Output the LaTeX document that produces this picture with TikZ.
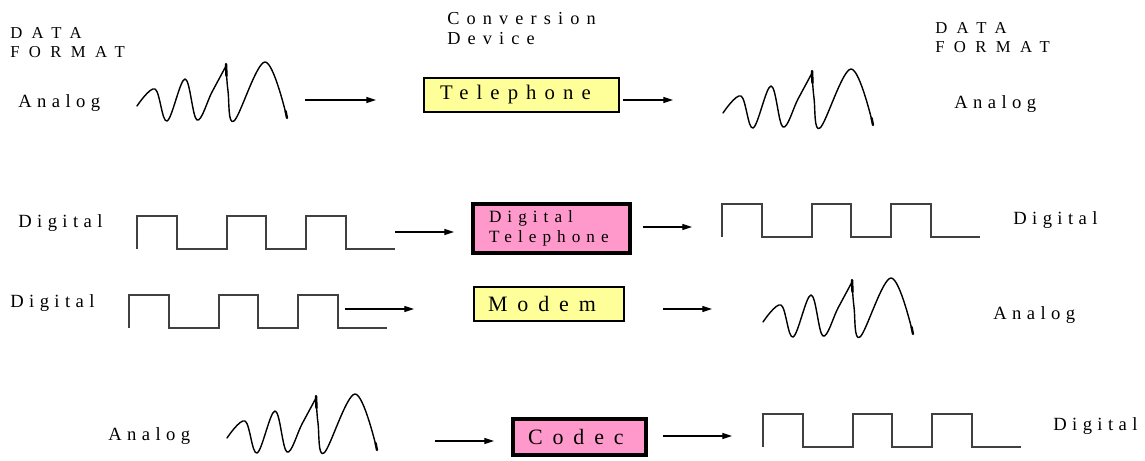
\documentclass[tikz,border=0pt]{standalone}
\usepackage{fontspec}
\setmainfont{Liberation Serif}
\newfontfamily\capsfont[LetterSpace=56]{Liberation Serif}
\newfontfamily\headfont[LetterSpace=39]{Liberation Serif}
\newfontfamily\sigfont[LetterSpace=29]{Liberation Serif}
\newfontfamily\devfont[LetterSpace=45]{Liberation Serif}
\newfontfamily\inboxfont[LetterSpace=35]{Liberation Serif}
\usetikzlibrary{arrows.meta}

\definecolor{boxyellow}{HTML}{FFFF99}
\definecolor{boxpink}{HTML}{FF99CC}

\tikzset{
    wave/.style={line width=0.8pt, line cap=round, line join=round},
    square/.style={line width=0.7pt, black!75},
    flow/.style={-{Triangle[length=5.5pt,width=3.4pt]}, line width=0.6pt},
    fmttext/.style={inner sep=0pt, anchor=base west, font=\sigfont\fontsize{10.6}{12}\selectfont},
    devbox/.style={draw, line width=0.8pt, inner ysep=0pt, align=left},
    heavybox/.style={devbox, line width=1.8pt},
}

\begin{document}
\begin{tikzpicture}[x=0.02cm, y=-0.02cm]
        \useasboundingbox (0,0) rectangle (1145,460);

        % Analog signal, drawn from its left end
        \def\analogwave{
            \draw[wave] plot[smooth, tension=0.6] coordinates
                {(0,0) (18,-17) (30,15) (48,-27) (60,14) (75,-14) (89,-40)};
            \draw[wave] plot[smooth, tension=0.6] coordinates
                {(89,-42) (91,-15) (97,15) (128,-44) (150,12)};
            \draw[wave, line width=1.4pt] (89,-42) -- (89.5,-30);
            \draw[wave, line width=1.3pt] (148.6,5) -- (150,12);
        }
        % Digital signal, drawn from its lower left corner
        \def\squarewave{
            \draw[square] (0,0) -- (0,-33) -- (40,-33) -- (40,0) -- (90,0)
                -- (90,-33) -- (129,-33) -- (129,0) -- (169,0) -- (169,-33)
                -- (209,-33) -- (209,0) -- (258,0);
        }

        % --- Column headings ---
        \node[inner sep=0pt, anchor=north west, align=left,
              font=\capsfont\fontsize{9.5}{10.8}\selectfont] (fmtL) at (10,27) {DATA\\FORMAT};
        \node[inner sep=0pt, anchor=north west, align=left,
              font=\headfont\fontsize{10.4}{11.3}\selectfont] (convdev) at (447,12) {Conversion\\Device};
        \node[inner sep=0pt, anchor=north west, align=left,
              font=\capsfont\fontsize{9.5}{10.8}\selectfont] (fmtR) at (935,22) {DATA\\FORMAT};

        % --- Row 1: Analog -> Telephone -> Analog ---
        \node[fmttext] (anaL1) at (18,107) {Analog};
        \begin{scope}[shift={(137,106)}] \analogwave \end{scope}
        \node[devbox, fill=boxyellow, text width=3.26cm, inner xsep=0.32cm, minimum height=0.68cm,
              font=\headfont\fontsize{11.8}{13}\selectfont] (tel) at (521.5,95) {Telephone};
        \begin{scope}[shift={(723,113)}] \analogwave \end{scope}
        \node[fmttext] (anaR1) at (954,108) {Analog};
        \coordinate (in1a) at (305,100);  \coordinate (in1b) at (376,100);
        \coordinate (out1a) at (623,100); \coordinate (out1b) at (673,100);
        \draw[flow] (in1a) -- (in1b);
        \draw[flow] (out1a) -- (out1b);

        % --- Row 2: Digital -> Digital Telephone -> Digital ---
        \node[fmttext] (digL2) at (18,227) {Digital};
        \begin{scope}[shift={(137,249)}] \squarewave \end{scope}
        \node[heavybox, fill=boxpink, text width=2.5cm, inner xsep=0.32cm, minimum height=0.98cm,
              font=\inboxfont\fontsize{9.8}{11.3}\selectfont] (dtel) at (551.5,228.5) {Digital\\Telephone};
        \begin{scope}[shift={(722,237)}] \squarewave \end{scope}
        \node[fmttext] (digR2) at (1013,224) {Digital};
        \coordinate (in2a) at (395,232);  \coordinate (in2b) at (454,232);
        \coordinate (out2a) at (643,227); \coordinate (out2b) at (692,227);
        \draw[flow] (in2a) -- (in2b);
        \draw[flow] (out2a) -- (out2b);

        % --- Row 3: Digital -> Modem -> Analog ---
        \node[fmttext] (digL3) at (10,307) {Digital};
        \begin{scope}[shift={(129,328)}] \squarewave \end{scope}
        \node[devbox, fill=boxyellow, text width=2.44cm, inner xsep=0.28cm, minimum height=0.68cm,
              font=\devfont\fontsize{12.5}{14}\selectfont] (modem) at (549,304) {Modem};
        \begin{scope}[shift={(763,322)}] \analogwave \end{scope}
        \node[fmttext] (anaR3) at (993,319) {Analog};
        \coordinate (in3a) at (345,309);  \coordinate (in3b) at (414,309);
        \coordinate (out3a) at (663,309); \coordinate (out3b) at (712,309);
        \draw[flow] (in3a) -- (in3b);
        \draw[flow] (out3a) -- (out3b);

        % --- Row 4: Analog -> Codec -> Digital ---
        \node[fmttext] (anaL4) at (108,440) {Analog};
        \begin{scope}[shift={(227,438)}] \analogwave \end{scope}
        \node[heavybox, fill=boxpink, text width=2.06cm, inner xsep=0.3cm, minimum height=0.72cm,
              font=\devfont\fontsize{12.5}{14}\selectfont] (codec) at (579.5,437) {Codec};
        \begin{scope}[shift={(763,447)}] \squarewave \end{scope}
        \node[fmttext] (digR4) at (1053,430) {Digital};
        \coordinate (in4a) at (435,441);  \coordinate (in4b) at (494,441);
        \coordinate (out4a) at (663,436); \coordinate (out4b) at (732,436);
        \draw[flow] (in4a) -- (in4b);
        \draw[flow] (out4a) -- (out4b);
\end{tikzpicture}
\end{document}
